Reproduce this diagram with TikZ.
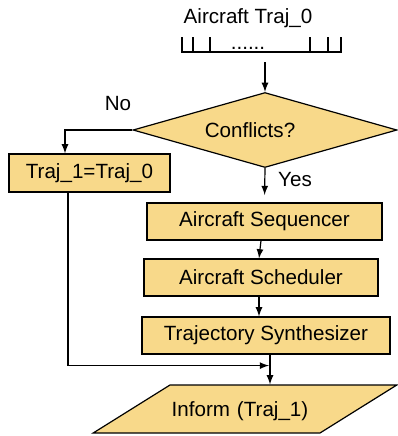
\documentclass[tikz,border=0pt]{standalone}
\usepackage{fontspec}
\setmainfont{Liberation Sans}
\usetikzlibrary{arrows, positioning, calc, shapes.geometric}
\definecolor{boxyellow}{RGB}{248,217,138}

\begin{document}
\begin{tikzpicture}[
	  x=0.5pt, y=-0.5pt,
	  line width=0.6pt,
	  every node/.style={font=\fontsize{10.3}{12}\selectfont, text=black},
	  box_style/.style={
	  	rectangle,
	  	draw,
	  	fill=boxyellow,
	  	align=center,
	  	inner sep=0pt,
	  	minimum height=18.5pt
	  },
	  decision_style/.style={
	  	diamond,
	  	draw,
	  	fill=boxyellow,
	  	aspect=3.5,
	  	inner sep=0pt,
	  	minimum width=132pt,
	  	minimum height=37.5pt
	  },
	  io_style/.style={
	  	trapezium,
	  	trapezium left angle=32,
	  	trapezium right angle=148,
	  	draw,
	  	fill=boxyellow,
	  	inner sep=0pt,
	  	align=center,
	  	text width=75pt,
	  	text height=15.5pt,
	  	text depth=8.5pt
	  },
	  flow_arrow/.style={-latex}]
	\useasboundingbox (0,0) rectangle (398,436);
	% Input queue
	\node (title) at (248,18) {Aircraft Traj\_0};
	\draw (182,37) -- (182,52) -- (341,52) -- (341,37);
	\foreach \t in {193,210,310,328}
		\draw (\t,37) -- (\t,52);
	\node[anchor=base] (dots) at (248,49) {......};
	\coordinate (queue) at (265,62);
	% Decision
	\node[decision_style] (conf) at (265,130) {Conflicts?\hspace*{15pt}};
	\node[box_style, minimum width=80.5pt, minimum height=19pt] (traj) at (89.5,173) {Traj\_1=Traj\_0};
	% Main branch
	\node[box_style, minimum width=117.5pt] (seq) at (264.5,221.5) {Aircraft Sequencer};
	\node[box_style, minimum width=117pt] (sched) at (261,277.5) {Aircraft Scheduler};
	\node[box_style, minimum width=124pt] (synth) at (266,335.5) {Trajectory Synthesizer};
	\node[io_style] (inform) at (245,409) {Inform (Traj\_1)\hspace*{5pt}};
	\coordinate (merge) at ($(synth.south)+(4,0)$);
	% Connectors
	\draw[flow_arrow] (queue) -- (conf.north);
	\draw[flow_arrow] (conf.west) -| ([xshift=-12.25pt]traj.north);
	\node (no) at (118,104) {No};
	\draw[flow_arrow, shorten >=4pt] (conf.south) -- (seq.north |- 0,203);
	\node (yes) at (295,180) {Yes};
	\draw[flow_arrow] (sched.north |- seq.south) -- ([xshift=-1pt]sched.north);
	\draw[flow_arrow] ([xshift=-1pt]sched.south) -- ([xshift=-1pt]sched.south |- synth.north);
	\draw[flow_arrow] (merge) -- (merge |- inform.north);
	\draw[flow_arrow] ([xshift=-10.75pt]traj.south) |- ($(merge)+(-1,11)$);
\end{tikzpicture}
\end{document}
